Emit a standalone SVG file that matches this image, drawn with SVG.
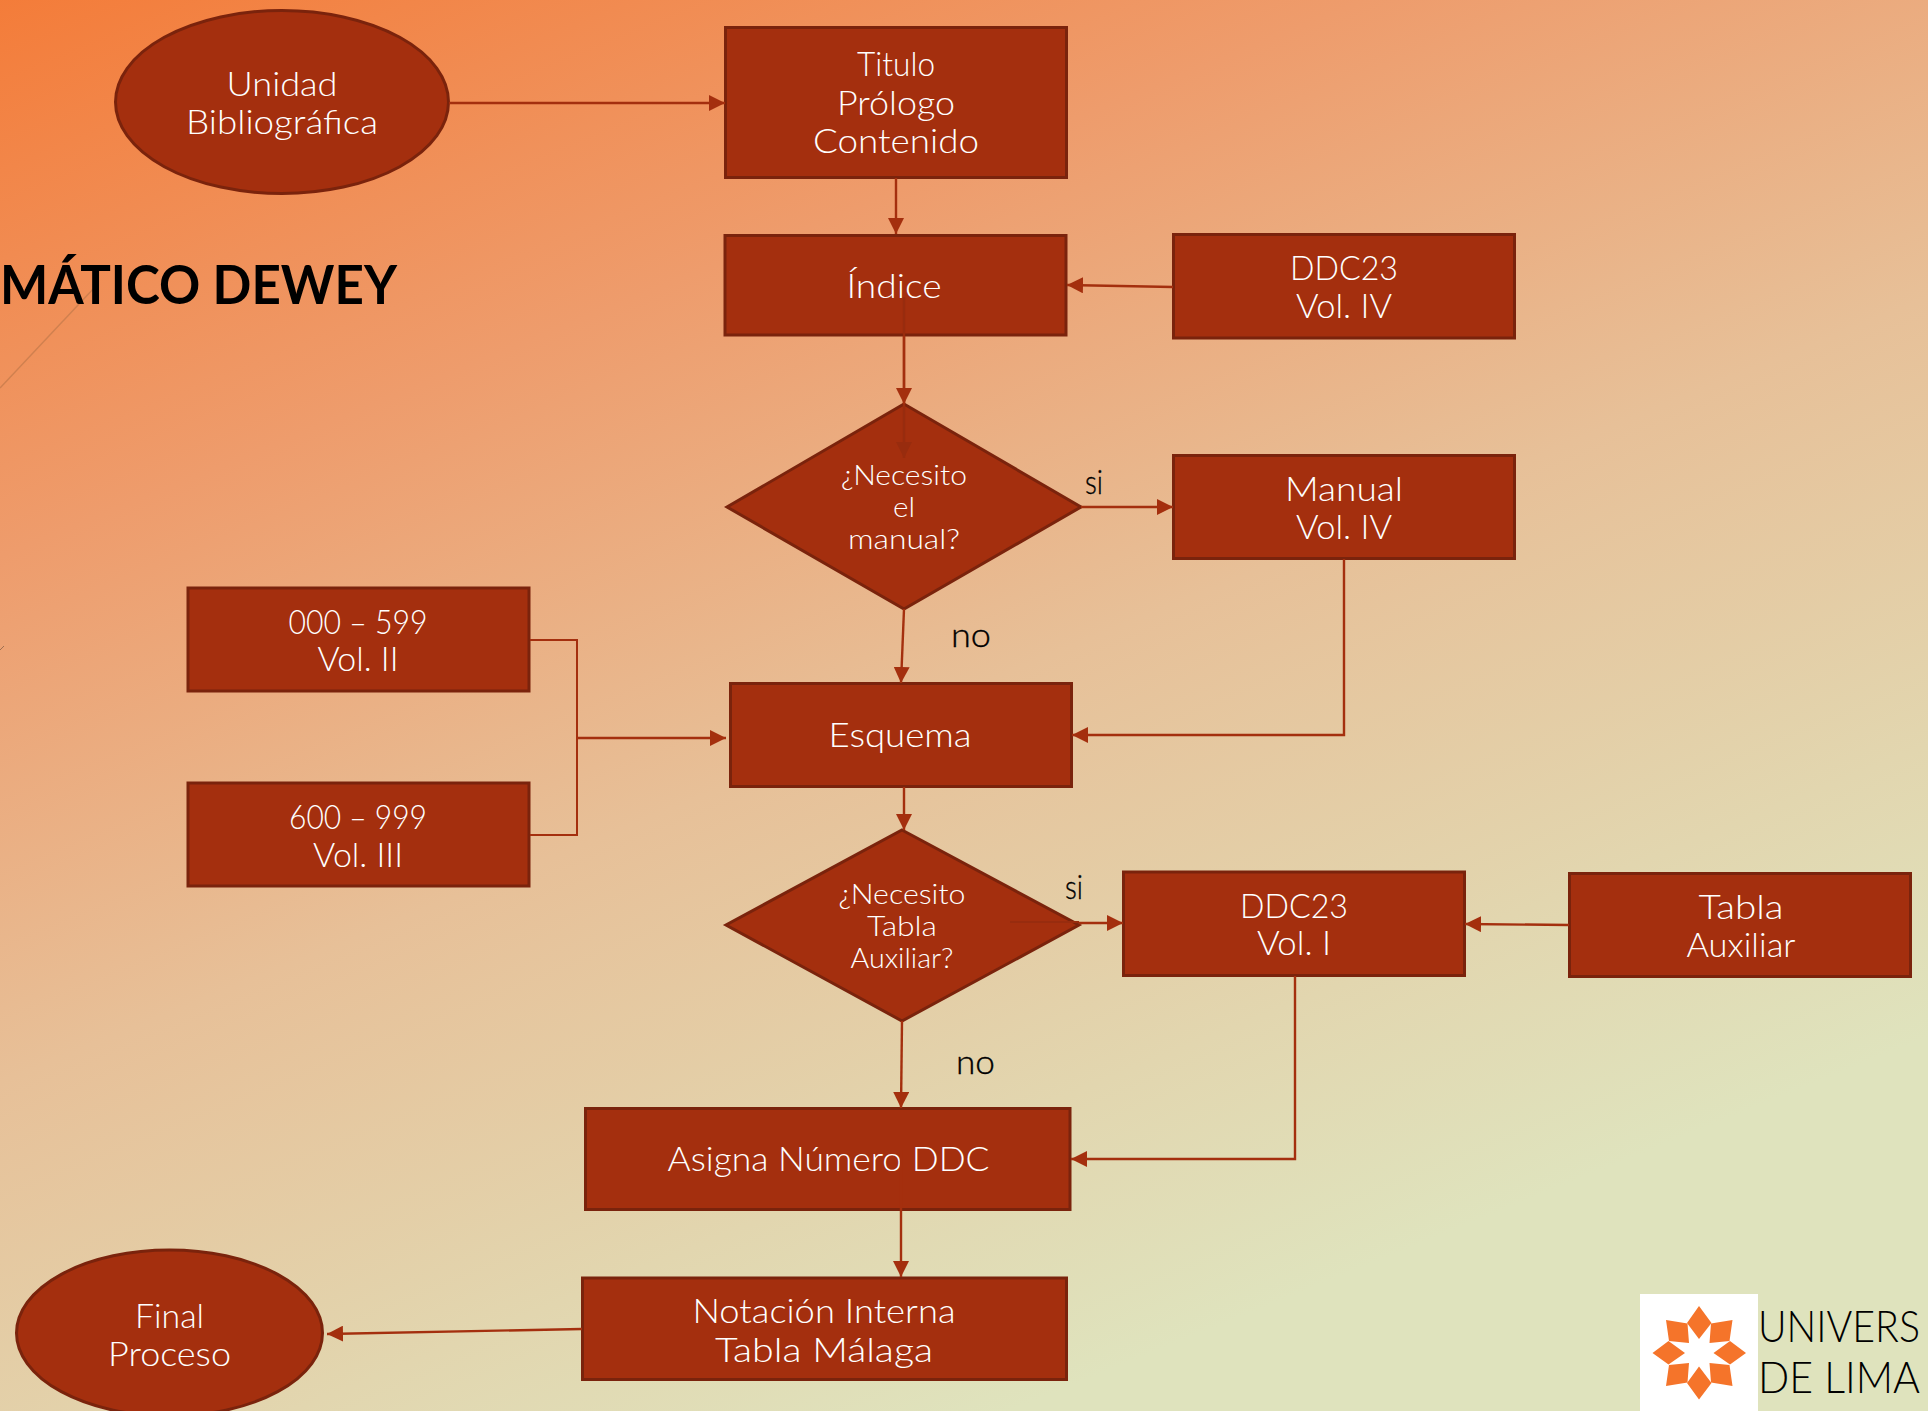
<svg xmlns="http://www.w3.org/2000/svg" width="1928" height="1411" viewBox="0 0 1928 1411">
<style>
.n{fill:#a42f0e;stroke:#7a230c;stroke-width:3}
text{font-family:"Lato","Liberation Sans",sans-serif}
.w{fill:#fff;font-size:33px;font-weight:300;text-anchor:middle}
.d{fill:#fff;font-size:27px;font-weight:300;text-anchor:middle}
.k{fill:#000;stroke:#000;stroke-width:.35;font-size:34px;font-weight:300}
.c{fill:none;stroke:#a42f0e;stroke-width:2.4;marker-end:url(#a)}
.p{fill:none;stroke:#a42f0e;stroke-width:2}
.s{fill:#f5742a}
</style>
<defs>
<linearGradient id="bg" gradientUnits="userSpaceOnUse" x1="330" y1="-260" x2="1010" y2="1411">
<stop offset="0" stop-color="#f5752e"/>
<stop offset="0.35" stop-color="#ee9c6c"/>
<stop offset="0.62" stop-color="#e7c098"/>
<stop offset="0.85" stop-color="#e2d6af"/>
<stop offset="1" stop-color="#dfe3bd"/>
</linearGradient>
<marker id="a" viewBox="0 0 16 16" refX="16" refY="8" markerWidth="16" markerHeight="16" markerUnits="userSpaceOnUse" orient="auto"><path d="M0 0L16 8L0 16Z" fill="#a42f0e"/></marker>
<marker id="g" viewBox="0 0 16 16" refX="16" refY="8" markerWidth="16" markerHeight="16" markerUnits="userSpaceOnUse" orient="auto"><path d="M0 0L16 8L0 16Z" fill="#982c0e"/></marker>
</defs>
<rect width="1928" height="1411" fill="url(#bg)"/>
<path d="M0 388L95 287" fill="none" stroke="#d0804f" stroke-width="1.5"/>
<path d="M0 650L4 646" fill="none" stroke="#a07050" stroke-width="1"/>
<text x="0" y="304" font-size="53" font-weight="700" fill="#000" textLength="397" lengthAdjust="spacingAndGlyphs">MÁTICO DEWEY</text>

<g id="n-unidad"><ellipse class="n" cx="282" cy="102" rx="166.500" ry="91.500"/><text class="w" x="282" y="96" textLength="111" lengthAdjust="spacingAndGlyphs">Unidad</text><text class="w" x="282" y="134" textLength="192" lengthAdjust="spacingAndGlyphs">Bibliográfica</text></g>
<g id="n-titulo"><rect class="n" x="725.500" y="27.500" width="341" height="150"/><text class="w" x="896" y="76" textLength="78" lengthAdjust="spacingAndGlyphs">Titulo</text><text class="w" x="896" y="115" textLength="118" lengthAdjust="spacingAndGlyphs">Prólogo</text><text class="w" x="896" y="153" textLength="166" lengthAdjust="spacingAndGlyphs">Contenido</text></g>
<g id="n-indice"><rect class="n" x="725" y="235.500" width="341" height="99.500"/><text class="w" x="894" y="298" textLength="95" lengthAdjust="spacingAndGlyphs">Índice</text></g>
<g id="n-ddc4"><rect class="n" x="1173.500" y="234.500" width="341" height="103.500"/><text class="w" x="1344" y="280" textLength="108" lengthAdjust="spacingAndGlyphs">DDC23</text><text class="w" x="1344" y="318" textLength="96" lengthAdjust="spacingAndGlyphs">Vol. IV</text></g>
<g id="n-d1"><polygon class="n" points="904,404 1081,507 904,609 727,507"/><text class="d" x="904" y="485" textLength="126" lengthAdjust="spacingAndGlyphs">¿Necesito</text><text class="d" x="904" y="517" textLength="22" lengthAdjust="spacingAndGlyphs">el</text><text class="d" x="904" y="548.500" textLength="112" lengthAdjust="spacingAndGlyphs">manual?</text></g>
<g id="n-manual"><rect class="n" x="1173.500" y="455.500" width="341" height="103"/><text class="w" x="1344" y="501" textLength="118" lengthAdjust="spacingAndGlyphs">Manual</text><text class="w" x="1344" y="538.500" textLength="96" lengthAdjust="spacingAndGlyphs">Vol. IV</text></g>
<g id="n-v2"><rect class="n" x="188" y="588" width="341" height="103"/><text class="w" x="358" y="634" textLength="139" lengthAdjust="spacingAndGlyphs">000 – 599</text><text class="w" x="358" y="671" textLength="81" lengthAdjust="spacingAndGlyphs">Vol. II</text></g>
<g id="n-v3"><rect class="n" x="188" y="783" width="341" height="103"/><text class="w" x="358" y="829" textLength="138" lengthAdjust="spacingAndGlyphs">600 – 999</text><text class="w" x="358" y="867" textLength="90" lengthAdjust="spacingAndGlyphs">Vol. III</text></g>
<g id="n-esquema"><rect class="n" x="730.500" y="683.500" width="341" height="103"/><text class="w" x="900" y="747" textLength="143" lengthAdjust="spacingAndGlyphs">Esquema</text></g>
<g id="n-d2"><polygon class="n" points="902,830 1079,925 902,1021 726,925"/><text class="d" x="902" y="904" textLength="127" lengthAdjust="spacingAndGlyphs">¿Necesito</text><text class="d" x="902" y="936" textLength="70" lengthAdjust="spacingAndGlyphs">Tabla</text><text class="d" x="902" y="968" textLength="103" lengthAdjust="spacingAndGlyphs">Auxiliar?</text></g>
<g id="n-ddc1"><rect class="n" x="1123.500" y="872" width="341" height="103.500"/><text class="w" x="1294" y="917.500" textLength="108" lengthAdjust="spacingAndGlyphs">DDC23</text><text class="w" x="1294" y="955" textLength="74" lengthAdjust="spacingAndGlyphs">Vol. I</text></g>
<g id="n-tabla"><rect class="n" x="1569.500" y="873.500" width="341" height="103"/><text class="w" x="1741" y="918.500" textLength="85" lengthAdjust="spacingAndGlyphs">Tabla</text><text class="w" x="1741" y="957" textLength="109" lengthAdjust="spacingAndGlyphs">Auxiliar</text></g>
<g id="n-asigna"><rect class="n" x="585.500" y="1108.500" width="484.500" height="101"/><text class="w" x="828.500" y="1171" textLength="322" lengthAdjust="spacingAndGlyphs">Asigna Número DDC</text></g>
<g id="n-notacion"><rect class="n" x="582.500" y="1278" width="484" height="101.500"/><text class="w" x="824" y="1323" textLength="263" lengthAdjust="spacingAndGlyphs">Notación Interna</text><text class="w" x="824" y="1361.500" textLength="218" lengthAdjust="spacingAndGlyphs">Tabla Málaga</text></g>
<g id="n-final"><ellipse class="n" cx="169.500" cy="1333" rx="153" ry="83"/><text class="w" x="169.500" y="1327.500" textLength="69" lengthAdjust="spacingAndGlyphs">Final</text><text class="w" x="169.500" y="1365.500" textLength="123" lengthAdjust="spacingAndGlyphs">Proceso</text></g>

<g id="connectors">
<path class="c" d="M449 103H725"/>
<path class="c" d="M896 178V234"/>
<path class="c" d="M1173 287L1067 285"/>
<path d="M904 297V458" fill="none" stroke="#982c0e" stroke-width="2.400" marker-end="url(#g)"/>
<path class="c" d="M904 336V404"/>
<path class="c" d="M1081 507H1173"/>
<path class="c" d="M904 609L901 683"/>
<path class="c" d="M1344 559V735H1072"/>
<path class="p" d="M530 640H577V835H530"/>
<path class="c" d="M577 738H726"/>
<path class="c" d="M904 787V830"/>
<path d="M1010 922H1079" fill="none" stroke="#982c0e" stroke-width="2"/>
<path class="c" d="M1079 923H1123"/>
<path class="c" d="M1569 925L1465 924"/>
<path class="c" d="M1295 976V1159H1071"/>
<path class="c" d="M902 1021L901 1108"/>
<path class="c" d="M901 1150V1277"/>
<path class="c" d="M582 1329L327 1334"/>
</g>
<g id="k-labels">
<text class="k" x="1085" y="494" textLength="18" lengthAdjust="spacingAndGlyphs">si</text><text class="k" x="951" y="647" textLength="40" lengthAdjust="spacingAndGlyphs">no</text>
<text class="k" x="1065" y="899" textLength="18" lengthAdjust="spacingAndGlyphs">si</text><text class="k" x="956" y="1074" textLength="39" lengthAdjust="spacingAndGlyphs">no</text>
</g>
<g id="logo">
<rect x="1640" y="1294" width="118" height="117" fill="#fff"/>
<path class="s" d="M1699 1306L1711.500 1323L1699 1339L1687 1323ZM1746 1353L1730 1341L1713.500 1353L1730 1364.500ZM1699 1399.500L1711.500 1383L1699 1366.500L1687 1383ZM1652.500 1353L1668.500 1341L1685 1353L1668.500 1364.500Z"/>
<path class="s" d="M1732.500 1320L1729.500 1341L1709.500 1343L1711 1323.500ZM1666 1320L1669 1341L1689 1343L1687.500 1323.500ZM1732.500 1386L1729.500 1365L1709.500 1363L1711 1382.500ZM1666 1386L1669 1365L1689 1363L1687.500 1382.500Z"/>
<text x="1758" y="1342" font-size="44" font-weight="300" fill="#000" textLength="162" lengthAdjust="spacingAndGlyphs">UNIVERS</text>
<text x="1758" y="1393" font-size="44" font-weight="300" fill="#000" textLength="162" lengthAdjust="spacingAndGlyphs">DE LIMA</text>
</g>
</svg>
